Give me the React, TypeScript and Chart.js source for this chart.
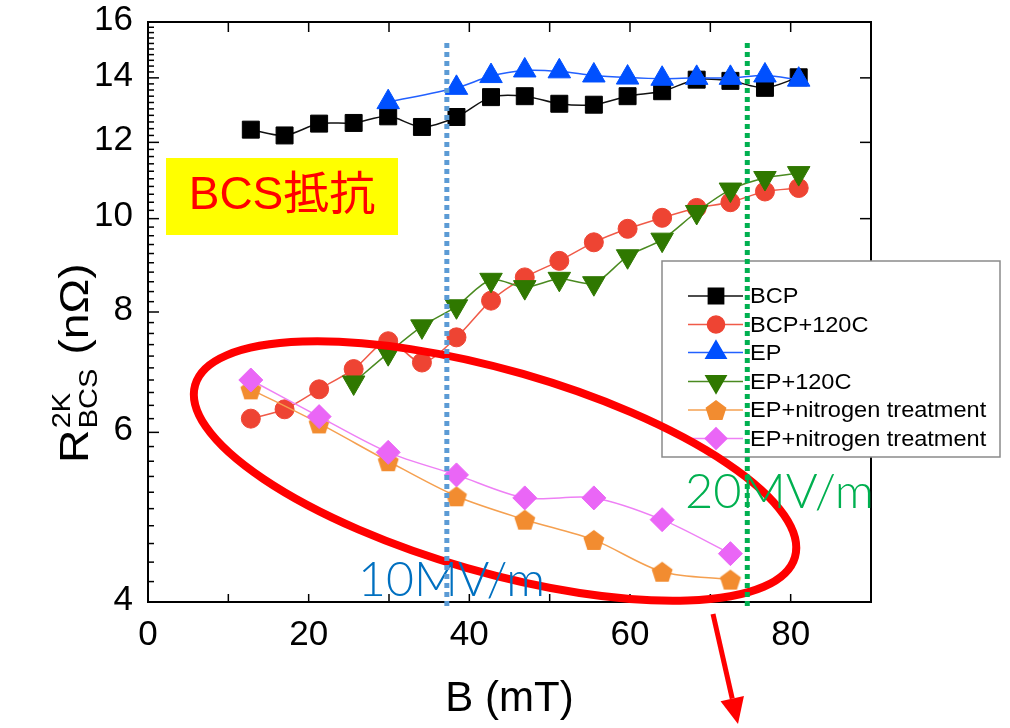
import React, { useEffect, useRef } from "react";
import { Chart, registerables } from "chart.js";
import { drawPoint } from "chart.js/helpers";

Chart.register(...registerables);

const FONT = "'Liberation Sans', Arial, Helvetica, sans-serif";

// ---- data (B in mT, R_BCS in nOhm) ----
const fieldB = [12.8, 17.0, 21.3, 25.6, 29.9, 34.1, 38.4, 42.7, 46.9, 51.2, 55.5, 59.7, 64.0, 68.3, 72.5, 76.8, 81.0];
const bcp = [12.37, 12.2, 12.55, 12.57, 12.77, 12.45, 12.75, 13.37, 13.4, 13.16, 13.13, 13.4, 13.56, 13.94, 13.9, 13.67, 14.02];
const bcp120 = [6.2, 6.34, 6.65, 6.98, 7.46, 7.09, 7.53, 8.22, 8.69, 9.04, 9.45, 9.76, 10.02, 10.26, 10.4, 10.67, 10.76];
const epB = [29.9, 38.4, 42.7, 46.9, 51.2, 55.5, 59.7, 64.0, 68.3, 72.5, 76.8, 81.0];
const ep = [13.21, 13.67, 14.06, 14.25, 14.22, 14.08, 14.01, 13.97, 14.0, 14.0, 14.08, 13.94];
const ep120B = [25.6, 29.9, 34.1, 38.4, 42.7, 46.9, 51.2, 55.5, 59.7, 64.0, 68.3, 72.5, 76.8, 81.0];
const ep120 = [6.76, 7.25, 7.73, 8.11, 8.64, 8.49, 8.66, 8.57, 9.14, 9.51, 10.16, 10.72, 11.02, 11.15];
const nitroB = [12.8, 21.3, 29.9, 38.4, 46.9, 55.5, 64.0, 72.5];
const nitroPent = [6.65, 6.13, 5.6, 5.15, 4.87, 4.64, 4.3, 4.22];
const nitroDiam = [6.8, 6.23, 5.72, 5.42, 5.13, 5.13, 4.87, 4.49];

const seriesNames = ["BCP", "BCP+120C", "EP", "EP+120C", "EP+nitrogen treatment", "EP+nitrogen treatment"];

// ---- axes ----
const xMin = 0;
const xMax = 90;
const yMin = 4;
const yMax = 16;
const xLabelTicks = [0, 20, 40, 60, 80];
const xMarkTicks = [10, 20, 30, 40, 50, 60, 70, 80];
const yLabelTicks = [4, 6, 8, 10, 12, 14, 16];

// vertical guide lines (B value)
const guide10 = 37.2;
const guide20 = 74.6;

function makePentagon(r: number, color: string) {
  const s = Math.ceil(r * 2 + 4);
  const c = document.createElement("canvas");
  c.width = s;
  c.height = s;
  const g = c.getContext("2d")!;
  g.beginPath();
  for (let i = 0; i < 5; i++) {
    const a = -Math.PI / 2 + (i * 2 * Math.PI) / 5;
    const px = s / 2 + r * Math.cos(a);
    const py = s / 2 + r * Math.sin(a) + r * 0.095;
    if (i === 0) g.moveTo(px, py);
    else g.lineTo(px, py);
  }
  g.closePath();
  g.fillStyle = color;
  g.fill();
  return c;
}

const pts = (xs: number[], ys: number[]) => xs.map((x, i) => ({ x, y: ys[i] }));

const decorPlugin = {
  id: "decor",
  afterDatasetsDraw(chart: any) {
    const { ctx, chartArea: a, scales } = chart;
    const x = scales.x;
    const y = scales.y;
    ctx.save();
    ctx.strokeStyle = "#000";
    ctx.lineWidth = 1.5;
    const line = (x1: number, y1: number, x2: number, y2: number) => {
      ctx.beginPath();
      ctx.moveTo(x1, y1);
      ctx.lineTo(x2, y2);
      ctx.stroke();
    };
    for (const v of xMarkTicks) {
      const px = x.getPixelForValue(v);
      line(px, a.bottom, px, a.bottom - 8);
      line(px, a.top, px, a.top + 10);
    }
    for (const v of yLabelTicks) {
      const py = y.getPixelForValue(v);
      line(a.left, py, a.left + 11, py);
      line(a.right, py, a.right - 11, py);
    }
    for (let k = 21; k < 80; k++) {
      const v = k / 5;
      if (Math.abs(v - Math.round(v)) < 1e-6 && Math.round(v) % 2 === 0) continue;
      const py = y.getPixelForValue(v);
      line(a.left, py, a.left + 6, py);
    }
    ctx.lineWidth = 2;
    ctx.strokeRect(a.left, a.top, a.right - a.left, a.bottom - a.top);

    // tick labels
    ctx.fillStyle = "#000";
    ctx.font = `35px ${FONT}`;
    ctx.textAlign = "right";
    ctx.textBaseline = "middle";
    for (const v of yLabelTicks) {
      ctx.fillText(String(v), a.left - 15, y.getPixelForValue(v) - 2);
    }
    ctx.textAlign = "center";
    ctx.textBaseline = "alphabetic";
    for (const v of xLabelTicks) {
      ctx.fillText(String(v), x.getPixelForValue(v), a.bottom + 43);
    }
    ctx.font = `42px ${FONT}`;
    ctx.fillText("B (mT)", (a.left + a.right) / 2, 711);
    ctx.restore();
  },
  afterDraw(chart: any) {
    const { ctx, scales } = chart;
    const x = scales.x;
    const y = scales.y;
    ctx.save();

    // y axis title with super/subscript
    ctx.save();
    ctx.translate(88, 463);
    ctx.rotate(-Math.PI / 2);
    ctx.scale(1.16, 1);
    ctx.fillStyle = "#000";
    ctx.textAlign = "left";
    ctx.textBaseline = "alphabetic";
    ctx.font = `40px ${FONT}`;
    ctx.fillText("R", 0, 0);
    let w = ctx.measureText("R").width + 1;
    ctx.font = `25px ${FONT}`;
    ctx.fillText("2K", w, -18);
    ctx.fillText("BCS", w, 9);
    w += Math.max(ctx.measureText("2K").width, ctx.measureText("BCS").width);
    ctx.font = `40px ${FONT}`;
    ctx.fillText("(n\u03A9)", w + 12, 0);
    ctx.restore();

    // yellow label box
    ctx.fillStyle = "#FFFF00";
    ctx.fillRect(166, 158, 232, 77);
    ctx.fillStyle = "#FF0000";
    ctx.font = `46px ${FONT}, 'Noto Sans CJK JP'`;
    ctx.textAlign = "center";
    ctx.textBaseline = "middle";
    ctx.fillText("BCS抵抗", 282, 196);

    // legend
    ctx.fillStyle = "#fff";
    ctx.fillRect(662, 261, 338, 196);
    ctx.strokeStyle = "#8a8a8a";
    ctx.lineWidth = 1.5;
    ctx.strokeRect(662, 261, 338, 196);
    const rows = [296, 324.5, 352.5, 381.5, 410, 438.5];
    chart.data.datasets.forEach((ds: any, i: number) => {
      const ry = rows[i];
      ctx.strokeStyle = ds.borderColor;
      ctx.lineWidth = 1.5;
      ctx.beginPath();
      ctx.moveTo(688, ry);
      ctx.lineTo(743, ry);
      ctx.stroke();
      ctx.fillStyle = ds.pointBackgroundColor;
      ctx.strokeStyle = ds.pointBackgroundColor;
      drawPoint(ctx, {
        pointStyle: ds.pointStyle,
        radius: ds.pointRadius * 0.9,
        rotation: ds.pointRotation || 0,
        borderWidth: 1,
      } as any, 716, ry);
      ctx.save();
      ctx.translate(750, ry);
      ctx.scale(1.07, 1);
      ctx.fillStyle = "#000";
      ctx.font = `22px ${FONT}`;
      ctx.textAlign = "left";
      ctx.textBaseline = "middle";
      ctx.fillText(seriesNames[i], 0, 1);
      ctx.restore();
    });

    // red ellipse
    const ecx = x.getPixelForValue(43.2);
    const ecy = y.getPixelForValue(5.47);
    ctx.strokeStyle = "#FF0000";
    ctx.lineWidth = 8;
    ctx.beginPath();
    ctx.ellipse(ecx, ecy, 312, 101, (16 * Math.PI) / 180, 0, Math.PI * 2);
    ctx.stroke();

    // field labels
    const fitText = (t: string, left: number, right: number, base: number, color: string) => {
      ctx.save();
      ctx.font = `300 48px Lato, 'Noto Sans', sans-serif`;
      const mw = ctx.measureText(t).width;
      ctx.translate(left, base);
      ctx.scale((right - left) / mw, 1);
      ctx.fillStyle = color;
      ctx.textAlign = "left";
      ctx.textBaseline = "alphabetic";
      ctx.fillText(t, 0, 0);
      ctx.restore();
    };
    fitText("10MV/m", 358, 545, 596, "#0070C0");
    fitText("20MV/m", 685, 874, 508, "#00B050");

    // dotted guide lines
    const dotted = (v: number, color: string) => {
      const px = x.getPixelForValue(v);
      ctx.save();
      ctx.strokeStyle = color;
      ctx.lineWidth = 5;
      ctx.setLineDash([5, 4]);
      ctx.beginPath();
      ctx.moveTo(px, 43);
      ctx.lineTo(px, 606);
      ctx.stroke();
      ctx.restore();
    };
    dotted(guide10, "#5B9BD5");
    dotted(guide20, "#00B050");

    // arrow
    const ax1 = 713, ay1 = 614, ax2 = 738, ay2 = 724;
    const ang = Math.atan2(ay2 - ay1, ax2 - ax1);
    const hl = 26, hw = 12;
    const bx = ax2 - hl * Math.cos(ang), by = ay2 - hl * Math.sin(ang);
    ctx.strokeStyle = "#FF0000";
    ctx.fillStyle = "#FF0000";
    ctx.lineWidth = 5;
    ctx.beginPath();
    ctx.moveTo(ax1, ay1);
    ctx.lineTo(bx, by);
    ctx.stroke();
    ctx.beginPath();
    ctx.moveTo(ax2, ay2);
    ctx.lineTo(bx + hw * Math.sin(ang), by - hw * Math.cos(ang));
    ctx.lineTo(bx - hw * Math.sin(ang), by + hw * Math.cos(ang));
    ctx.closePath();
    ctx.fill();

    ctx.restore();
  },
};

export default function App() {
  const ref = useRef<HTMLCanvasElement | null>(null);
  useEffect(() => {
    if (!ref.current) return;
    const pent = makePentagon(11, "#F28C30");
    const mk = (label: string, data: any[], color: string, lineColor: string, style: any, r: number, order: number, rot = 0) => ({
      label,
      data,
      borderColor: lineColor,
      borderWidth: 1.5,
      pointBackgroundColor: color,
      pointBorderColor: color,
      pointBorderWidth: 1,
      pointStyle: style,
      pointRadius: r,
      pointRotation: rot,
      tension: 0.3,
      order,
      clip: false,
    });
    const chart = new Chart(ref.current, {
      type: "line",
      data: {
        datasets: [
          mk(seriesNames[0], pts(fieldB, bcp), "#000000", "#111111", "rect", 12, 6),
          mk(seriesNames[1], pts(fieldB, bcp120), "#EE4433", "#F05A48", "circle", 9.5, 5),
          mk(seriesNames[2], pts(epB, ep), "#0050FF", "#2260FF", "triangle", 13, 4),
          mk(seriesNames[3], pts(ep120B, ep120), "#2F7800", "#4A8A20", "triangle", 13, 3, 180),
          mk(seriesNames[4], pts(nitroB, nitroPent), "#F28C30", "#F5A050", pent, 11, 2),
          mk(seriesNames[5], pts(nitroB, nitroDiam), "#EA66F6", "#EE80F5", "rectRot", 12, 1),
        ] as any,
      },
      options: {
        responsive: false,
        animation: false,
        events: [],
        layout: { padding: { top: 22, right: 139, left: 0, bottom: 0 } },
        plugins: { legend: { display: false }, tooltip: { enabled: false } },
        scales: {
          x: {
            type: "linear",
            min: xMin,
            max: xMax,
            grid: { display: false },
            border: { display: false },
            ticks: { display: false },
            afterBuildTicks: (s: any) => {
              s.ticks = xLabelTicks.map((v) => ({ value: v }));
            },
            afterFit: (s: any) => {
              s.height = 126;
            },
          },
          y: {
            type: "logarithmic",
            min: yMin,
            max: yMax,
            grid: { display: false },
            border: { display: false },
            ticks: { display: false },
            afterBuildTicks: (s: any) => {
              s.ticks = yLabelTicks.map((v) => ({ value: v, major: true }));
            },
            afterFit: (s: any) => {
              s.width = 148;
            },
          },
        },
      },
      plugins: [decorPlugin],
    });
    return () => chart.destroy();
  }, []);
  return (
    <div style={{ position: "absolute", left: 0, top: 0, width: 1010, height: 728, background: "#fff" }}>
      <canvas ref={ref} width={1010} height={728} />
    </div>
  );
}
